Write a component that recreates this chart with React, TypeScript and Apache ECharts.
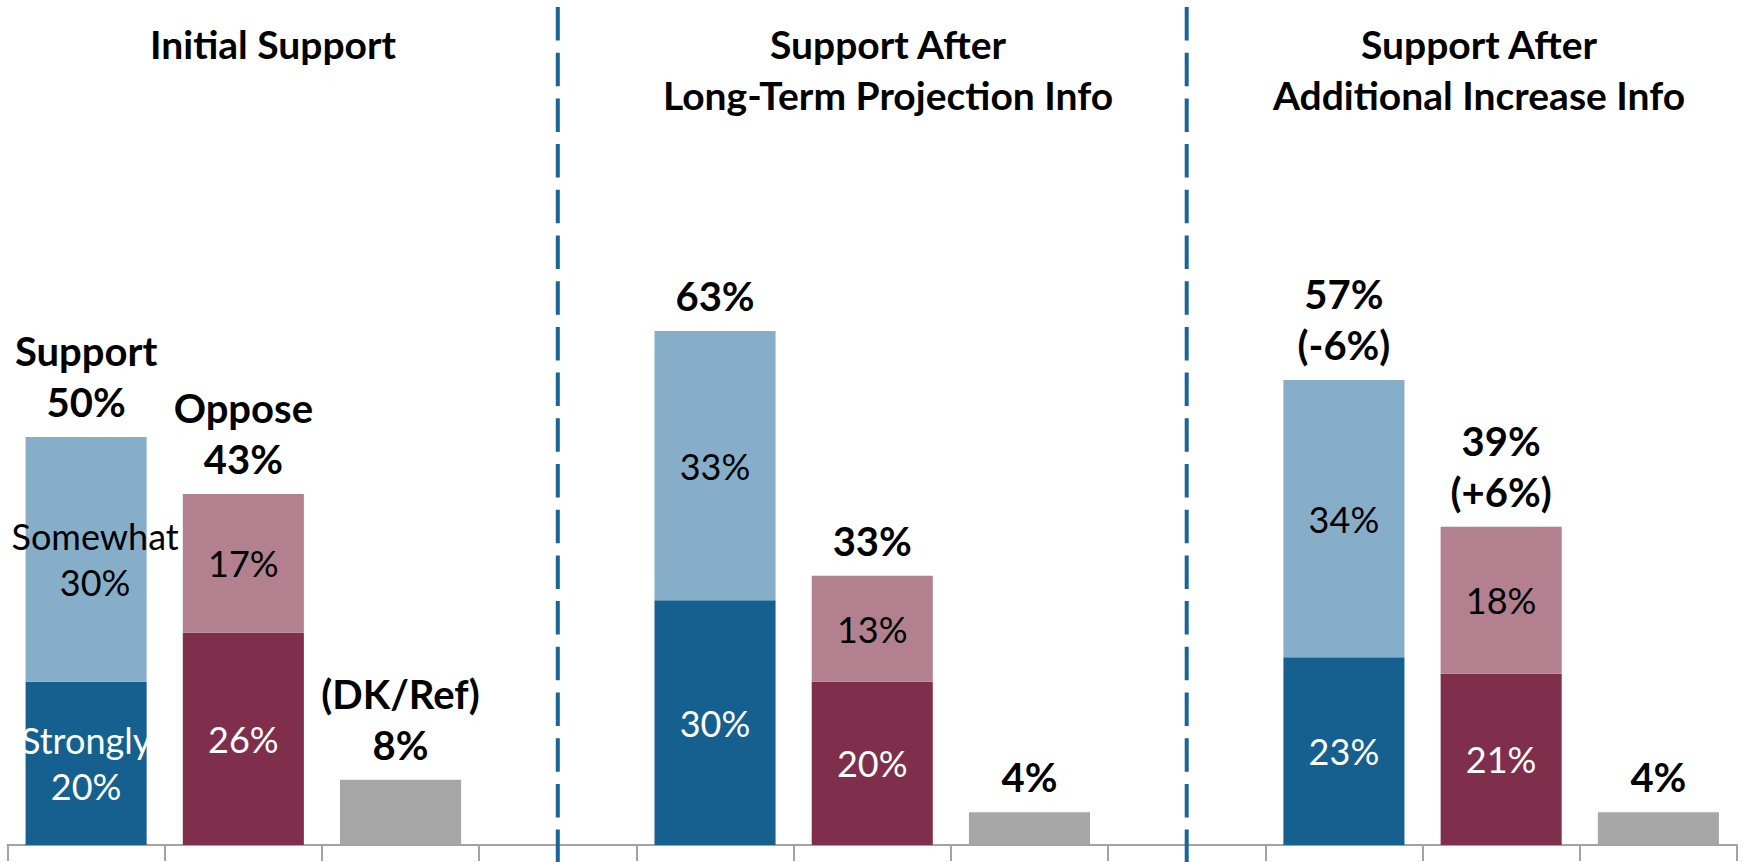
import React, { useEffect, useRef } from "react";
import * as echarts from "echarts";

const categories = [
  "Support A", "Oppose A", "DK A", "gap 1",
  "Support B", "Oppose B", "DK B", "gap 2",
  "Support C", "Oppose C", "DK C",
];
const stronglySupport = [20, null, null, null, 30, null, null, null, 23, null, null];
const somewhatSupport = [30, null, null, null, 33, null, null, null, 34, null, null];
const stronglyOppose = [null, 26, null, null, null, 20, null, null, null, 21, null];
const somewhatOppose = [null, 17, null, null, null, 13, null, null, null, 18, null];
const dkRef = [null, null, 8, null, null, null, 4, null, null, null, 4];

const stronglyNames = ["Strongly", "", "", "", "", "", "", "", "", "", ""];
const somewhatNames = ["Somewhat", "", "", "", "", "", "", "", "", "", ""];
const totalHeads = ["Support", "Oppose", "(DK/Ref)", "", "", "", "", "", "", "", ""];
const totalChanges = ["", "", "", "", "", "", "", "", "(-6%)", "(+6%)", ""];

const panelTitles = [
  "Initial Support",
  "Support After\nLong-Term Projection Info",
  "Support After\nAdditional Increase Info",
];
const dividerCategories = ["gap 1", "gap 2"];

const FONT = "Lato, 'Open Sans', sans-serif";

export default function App() {
  const ref = useRef<HTMLDivElement>(null);

  useEffect(() => {
    if (!ref.current) return;
    const chart = echarts.init(ref.current, null, { renderer: "svg" });

    const allSeries = [stronglySupport, somewhatSupport, stronglyOppose, somewhatOppose, dkRef];
    const totals = categories.map((_, i) =>
      allSeries.reduce((s, arr) => s + (arr[i] == null ? 0 : (arr[i] as number)), 0)
    );

    const innerLabel = (color: string, names: string[]) => ({
      show: true,
      position: "inside",
      color,
      fontFamily: FONT,
      fontSize: 36,
      lineHeight: 46,
      formatter: (p: any) => {
        const n = names[p.dataIndex];
        return n ? `${n}\n${p.value}%` : `${p.value}%`;
      },
    });

    const toData = (arr: (number | null)[], names?: string[], offset?: number[]) =>
      arr.map((v, i) => {
        if (v == null) return "-";
        if (names && names[i] && offset) return { value: v, label: { offset } };
        return v;
      });

    const barBase = {
      type: "bar",
      stack: "all",
      barWidth: "77%",
    };

    chart.setOption({
      animation: false,
      grid: { left: 7.5, right: 9, top: 29, bottom: 17 },
      xAxis: {
        type: "category",
        data: categories,
        boundaryGap: true,
        axisLine: { show: true, lineStyle: { color: "#A3A3A3", width: 2 } },
        axisTick: { show: true, length: 16, lineStyle: { color: "#A3A3A3", width: 2 } },
        axisLabel: { show: false },
        splitLine: { show: false },
      },
      yAxis: {
        type: "value",
        min: 0,
        max: 100,
        show: false,
        splitLine: { show: false },
      },
      series: [
        {
          ...barBase,
          name: "Strongly support",
          data: toData(stronglySupport),
          itemStyle: { color: "#15608F" },
          label: innerLabel("#FFFFFF", stronglyNames),
        },
        {
          ...barBase,
          name: "Somewhat support",
          data: toData(somewhatSupport, somewhatNames, [9, 0]),
          itemStyle: { color: "#87AEC8" },
          label: innerLabel("#000000", somewhatNames),
        },
        {
          ...barBase,
          name: "Strongly oppose",
          data: toData(stronglyOppose),
          itemStyle: { color: "#7F2F4B" },
          label: innerLabel("#FFFFFF", stronglyNames.map(() => "")),
        },
        {
          ...barBase,
          name: "Somewhat oppose",
          data: toData(somewhatOppose),
          itemStyle: { color: "#B2808F" },
          label: innerLabel("#000000", somewhatNames.map(() => "")),
        },
        {
          ...barBase,
          name: "DK/Ref",
          data: toData(dkRef),
          itemStyle: { color: "#A6A6A6" },
          label: { show: false },
        },
        {
          type: "scatter",
          name: "Total",
          symbolSize: 1,
          itemStyle: { color: "rgba(0,0,0,0)", opacity: 1 },
          data: totals.map((t, i) => (t > 0 ? [i, t] : [i, "-"])),
          label: {
            show: true,
            position: "top",
            distance: 9,
            color: "#000000",
            opacity: 1,
            fontFamily: FONT,
            fontWeight: "bold",
            fontSize: 40,
            lineHeight: 51,
            formatter: (p: any) => {
              const i = p.dataIndex;
              return [totalHeads[i], `${totals[i]}%`, totalChanges[i]].filter(Boolean).join("\n");
            },
          },
          z: 10,
        },
      ],
    });

    const titleX = [273, 888, 1479];
    const graphics: any[] = [];
    dividerCategories.forEach((c) => {
      const x = chart.convertToPixel({ xAxisIndex: 0 }, c) as number;
      graphics.push({
        type: "line",
        shape: { x1: x, y1: 7, x2: x, y2: 862 },
        style: { stroke: "#1A6497", lineWidth: 4, lineDash: [33.5, 12.2] },
        z: 20,
      });
    });
    panelTitles.forEach((t, i) => {
      graphics.push({
        type: "text",
        x: titleX[i],
        y: 18,
        style: {
          text: t,
          fill: "#000000",
          font: `bold 39px ${FONT}`,
          fontFamily: FONT,
          fontWeight: "bold",
          fontSize: 39,
          lineHeight: 51,
          textAlign: "center",
          textVerticalAlign: "top",
        },
        z: 20,
      });
    });
    chart.setOption({ graphic: graphics });

    return () => chart.dispose();
  }, []);

  return <div ref={ref} style={{ width: 1746, height: 862, position: "absolute", left: 0, top: 0 }} />;
}
